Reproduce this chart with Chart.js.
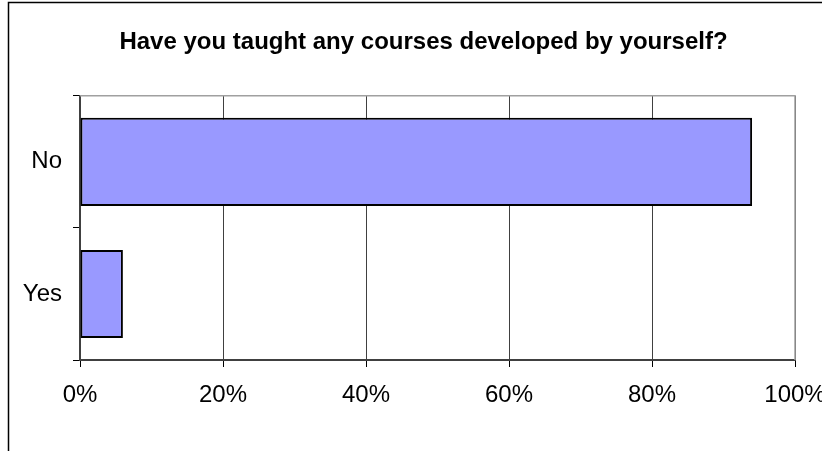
<!DOCTYPE html>
<html>
<head>
<meta charset="utf-8">
<script src="https://cdn.jsdelivr.net/npm/chart.js@4.4.1/dist/chart.umd.min.js"></script>
<style>
  html, body { margin: 0; padding: 0; background: #fff; }
  #wrap { width: 822px; height: 451px; }
</style>
</head>
<body>
<div id="wrap"><canvas id="surveyChart"></canvas></div>
<script>
const categories = ['No', 'Yes'];
const percentValues = [94, 6];
const tickValues = [0, 20, 40, 60, 80, 100];

// outer frame of the chart object (partly cropped in the picture)
const frame = {
    id: 'frame',
    afterDraw(chart) {
        const ctx = chart.ctx;
        ctx.save();
        ctx.strokeStyle = '#000';
        ctx.lineWidth = 1.5;
        ctx.beginPath();
        ctx.moveTo(8.5, 451);
        ctx.lineTo(8.5, 2.5);
        ctx.lineTo(822, 2.5);
        ctx.stroke();
        ctx.restore();
    }
};

// grey plot area border on top and right
const plotBorder = {
    id: 'plotBorder',
    beforeDatasetsDraw(chart) {
        const { ctx, chartArea: a } = chart;
        ctx.save();
        ctx.strokeStyle = '#a0a0a0';
        ctx.lineWidth = 1.5;
        ctx.beginPath();
        ctx.moveTo(a.left, a.top);
        ctx.lineTo(a.right, a.top);
        ctx.lineTo(a.right, a.bottom);
        ctx.stroke();
        ctx.restore();
    }
};

// the original chart object is wider than the crop, so its title sits right of canvas centre
const shiftTitle = {
    id: 'shiftTitle',
    afterLayout(chart) {
        const t = chart.titleBlock;
        if (t) { t.left += 26; t.right += 26; }
    }
};

const ctx = document.getElementById('surveyChart').getContext('2d');
new Chart(ctx, {
    type: 'bar',
    data: {
        labels: categories,
        datasets: [{
            data: percentValues,
            backgroundColor: '#9999ff',
            borderColor: '#000',
            borderWidth: 2,
            borderSkipped: false,
            barPercentage: 0.667,
            categoryPercentage: 1
        }]
    },
    options: {
        indexAxis: 'y',
        responsive: true,
        maintainAspectRatio: false,
        animation: false,
        layout: { padding: { left: 0, right: 27, top: 0, bottom: 31 } },
        plugins: {
            legend: { display: false },
            tooltip: { enabled: false },
            title: {
                display: true,
                text: 'Have you taught any courses developed by yourself?',
                color: '#000',
                font: { family: '"Liberation Sans", Arial, sans-serif', size: 24, weight: 'bold' },
                padding: { top: 28, bottom: 39 }
            }
        },
        scales: {
            x: {
                min: 0,
                max: 100,
                afterBuildTicks: (scale) => {
                    scale.ticks = tickValues.map(v => ({ value: v }));
                },
                afterFit: (scale) => {
                    scale.height = 60;
                    scale.paddingLeft = 0;
                    scale.paddingRight = 0;
                },
                ticks: {
                    color: '#000',
                    padding: 14,
                    font: { family: '"Liberation Sans", Arial, sans-serif', size: 24 },
                    callback: (v) => v + '%'
                },
                grid: { color: '#404040', lineWidth: 1, tickLength: 7, tickColor: '#000' },
                border: { color: '#404040', width: 2 }
            },
            y: {
                afterFit: (scale) => {
                    scale.width = 80;
                    scale.paddingTop = 0;
                    scale.paddingBottom = 0;
                },
                ticks: {
                    color: '#000',
                    padding: 11,
                    font: { family: '"Liberation Sans", Arial, sans-serif', size: 24 }
                },
                grid: { drawOnChartArea: false, tickLength: 7, tickColor: '#000', offset: true },
                border: { color: '#404040', width: 1.5 }
            }
        }
    },
    plugins: [frame, plotBorder, shiftTitle]
});
</script>
</body>
</html>
